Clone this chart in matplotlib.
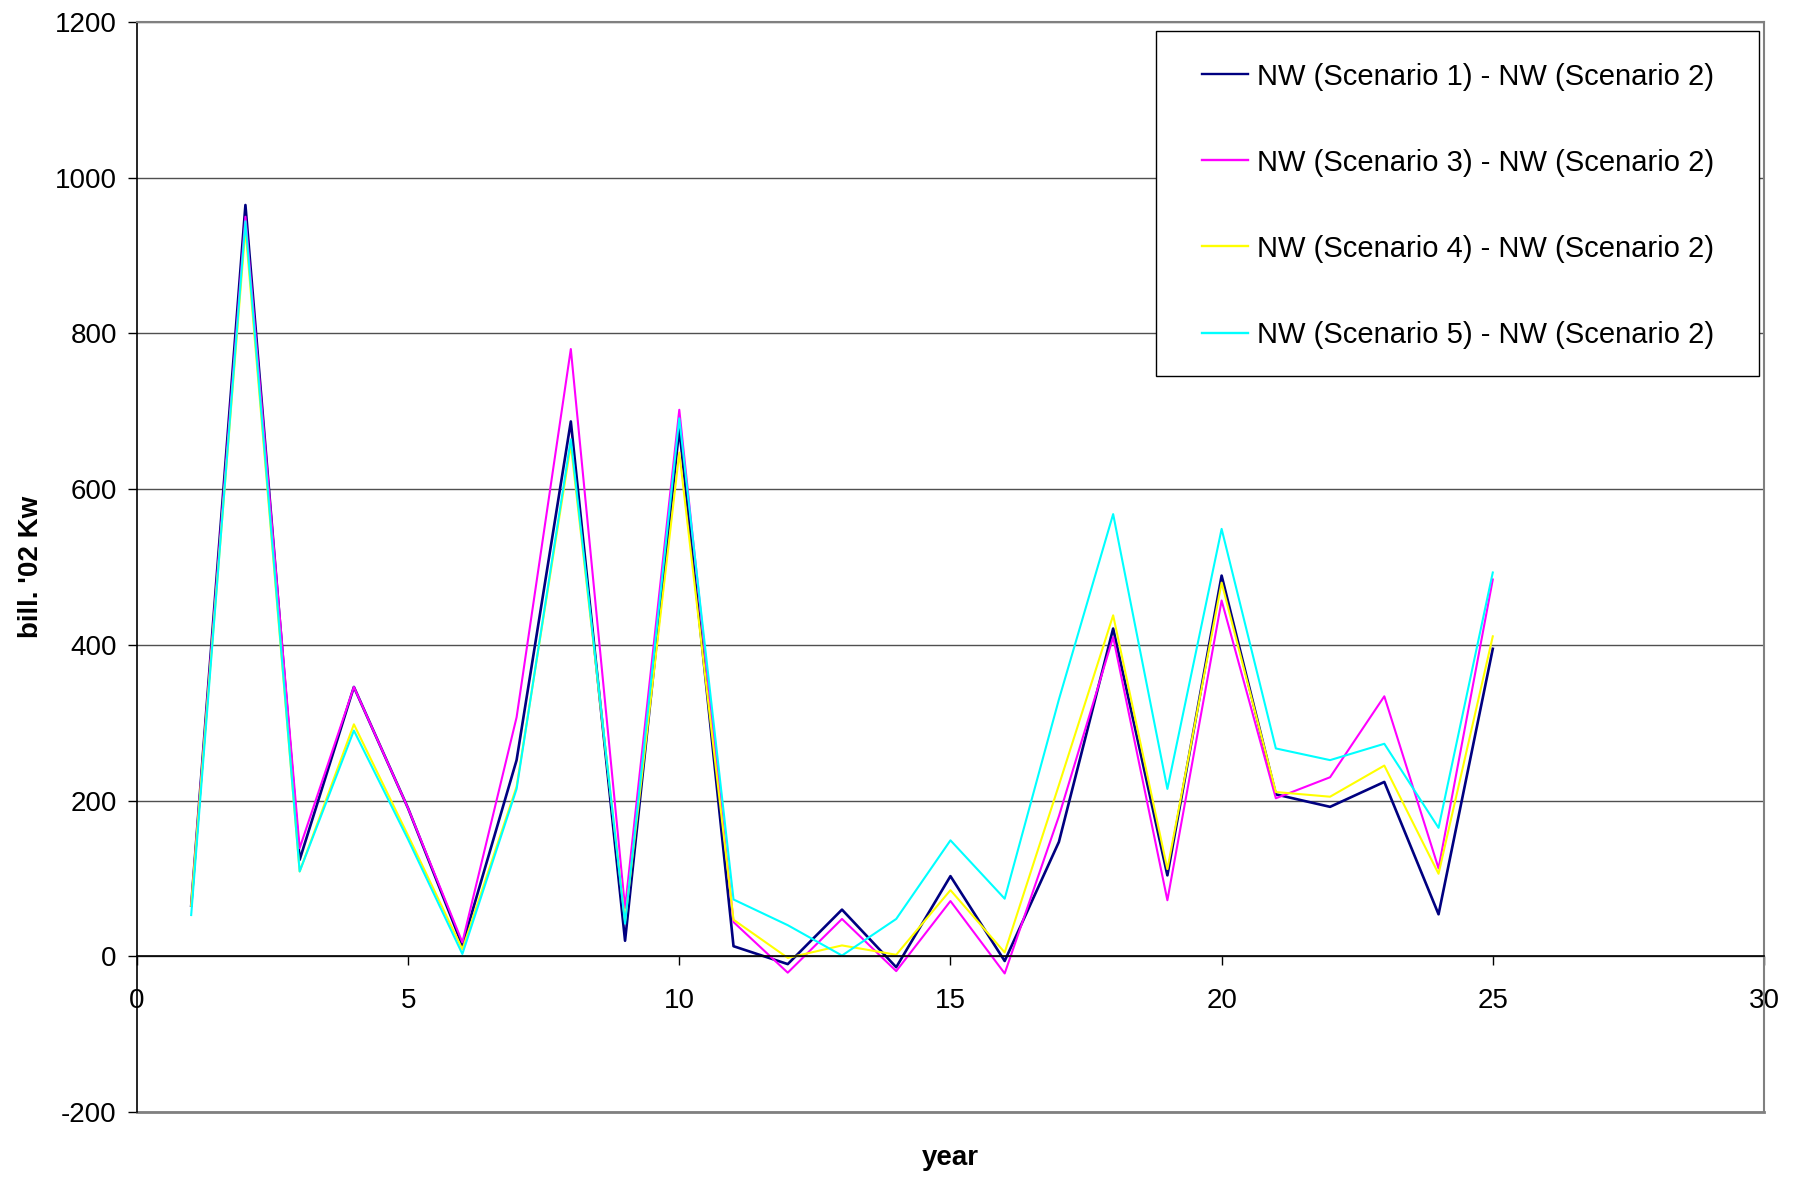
import numpy as np
import matplotlib
matplotlib.use('Agg')
import matplotlib.pyplot as plt
from matplotlib.patches import Rectangle

plt.rcParams['font.family'] = ['Liberation Sans', 'DejaVu Sans']
plt.rcParams['axes.unicode_minus'] = False

# Data (bill. '02 Kw per year)
years = list(range(1, 26))
nw_s1 = [65, 965, 124, 346, 190, 14, 252, 687, 20, 678, 13, -10, 60, -14, 103,
         -6, 147, 421, 104, 489, 208, 192, 224, 54, 395]
nw_s3 = [65, 950, 139, 346, 190, 18, 307, 780, 62, 702, 44, -21, 48, -19, 71,
         -22, 180, 410, 72, 457, 203, 230, 334, 113, 484]
nw_s4 = [65, 935, 109, 298, 155, 9, 218, 657, 45, 647, 47, -2, 14, 2, 85,
         5, 220, 438, 112, 480, 211, 205, 245, 106, 411]
nw_s5 = [53, 944, 109, 290, 150, 3, 215, 664, 42, 691, 73, 40, 1, 48, 149,
         74, 330, 568, 215, 549, 267, 252, 273, 165, 493]

labels = ['NW (Scenario 1) - NW (Scenario 2)',
          'NW (Scenario 3) - NW (Scenario 2)',
          'NW (Scenario 4) - NW (Scenario 2)',
          'NW (Scenario 5) - NW (Scenario 2)']
colors = ['#000080', '#FF00FF', '#FFFF00', '#00FFFF']
x_ticks = [0, 5, 10, 15, 20, 25, 30]
y_ticks = [-200, 0, 200, 400, 600, 800, 1000, 1200]

fig = plt.figure(figsize=(17.95, 11.79), dpi=100)
fig.subplots_adjust(left=0.0763, right=0.9827, bottom=0.0568, top=0.9813)
ax = fig.add_subplot(111)

widths = [1.9, 1.5, 1.5, 1.5]
for series, lab, col, lw in zip([nw_s1, nw_s3, nw_s4, nw_s5], labels, colors, widths):
    ax.plot(years, series, color=col, lw=lw, label=lab)

ax.set_xlim(0, 30)
ax.set_ylim(-200, 1200)
ax.set_xticks(x_ticks)
ax.set_yticks(y_ticks)

# grid lines like an excel chart
ax.yaxis.grid(True, color='#505050', lw=1.0)
ax.set_axisbelow(True)

# x axis crosses at zero
ax.spines['bottom'].set_position(('data', 0))
ax.spines['bottom'].set_color('black')
ax.spines['bottom'].set_linewidth(1.2)
ax.spines['left'].set_color('black')
ax.spines['left'].set_linewidth(1.2)
ax.spines['top'].set_color('#808080')
ax.spines['top'].set_linewidth(1.5)
ax.spines['right'].set_color('#808080')
ax.spines['right'].set_linewidth(1.5)
ax.axhline(-200, color='#808080', lw=2.0, clip_on=False)

ax.tick_params(axis='x', direction='out', length=6.5, width=1, pad=16, labelsize=20)
ax.tick_params(axis='y', direction='out', length=6.5, width=1, pad=8, labelsize=20)

ax.set_xlabel('year', fontsize=20, fontweight='bold')
ax.set_ylabel("bill. '02 Kw", fontsize=20, fontweight='bold')
ax.xaxis.set_label_coords(0.5, -0.030)
ax.yaxis.set_label_coords(-0.057, 0.5)

# legend without its own frame, box drawn separately (excel padding)
leg = ax.legend(loc='upper left', bbox_to_anchor=(0.6546, 0.9628), fontsize=21,
                frameon=False, borderpad=0, labelspacing=1.99,
                handlelength=1.58, handletextpad=0.3, borderaxespad=0)
for line in leg.get_lines():
    line.set_linewidth(1.7)
ax.add_patch(Rectangle((0.6263, 0.6752), 0.9969 - 0.6263, 0.9917 - 0.6752,
                       transform=ax.transAxes, facecolor='white',
                       edgecolor='black', lw=1.0, zorder=4))

fig.savefig('out.png', dpi=100)
